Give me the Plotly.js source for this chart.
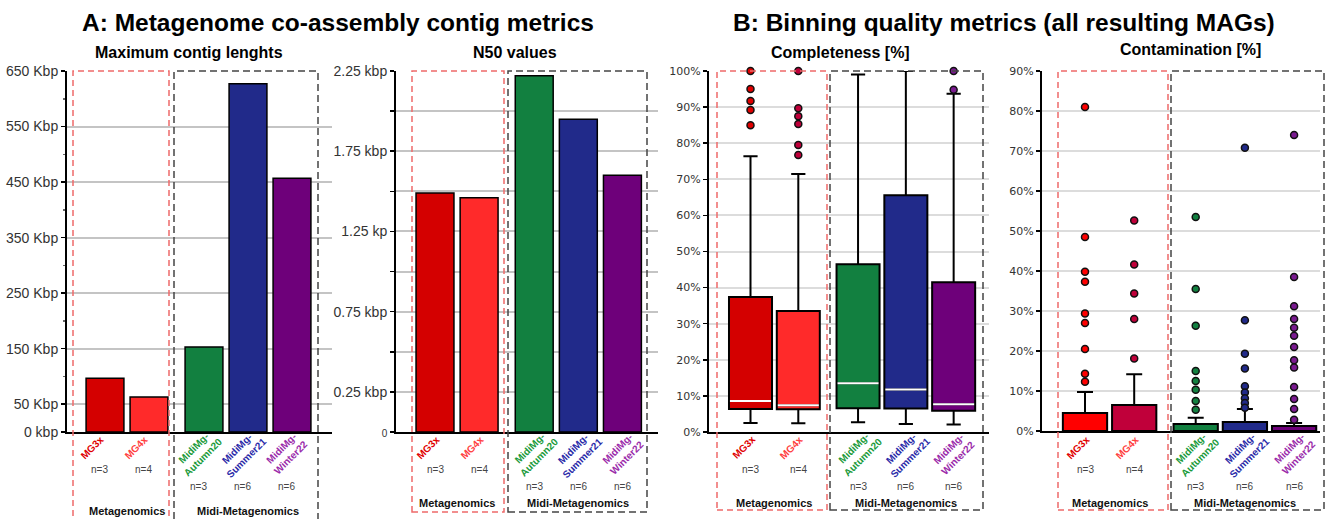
<!DOCTYPE html>
<html><head><meta charset="utf-8">
<script src="https://cdn.plot.ly/plotly-3.0.1.min.js"></script>
<style>html,body{margin:0;padding:0;background:#fff}</style>
</head><body><div id="chart" style="width:1325px;height:519px"></div>
<script>
// ---------- data ----------
const categories = ['MG3x', 'MG4x', 'MidiMg-Autumn20', 'MidiMg-Summer21', 'MidiMg-Winter22'];
const categoryLabels = ['MG3x', 'MG4x', 'MidiMg-<br>Autumn20', 'MidiMg-<br>Summer21', 'MidiMg-<br>Winter22'];
const sampleCounts = [3, 4, 3, 6, 6];
const groupOf = [0, 0, 1, 1, 1];
const groupNames = ['Metagenomics', 'Midi-Metagenomics'];

const maxContigKbp = [97, 63, 153, 627, 457];
const n50Kbp = [1.49, 1.46, 2.22, 1.95, 1.60];

const compQ1 = [6.4, 6.3, 6.6, 6.5, 5.9];
const compMedian = [8.6, 7.4, 13.5, 11.8, 7.7];
const compQ3 = [37.4, 33.5, 46.5, 65.6, 41.5];
const compLowerFence = [2.5, 2.4, 2.7, 2.2, 2.1];
const compUpperFence = [76.4, 71.5, 99.0, 100, 93.7];
const compOutliers = [
  [100, 95, 91.7, 89.2, 85],
  [100, 89.7, 87.5, 85.3, 79.5, 76.7],
  [],
  [],
  [100, 94.8]
];

const contMean = [4.5, 6.5, 1.75, 2.25, 1.25];
const contSdUp = [5.25, 7.7, 1.55, 3.25, 0.75];
const contOutliers = [
  [81, 48.5, 39.8, 37.3, 29.4, 27, 20.5, 14.3, 12.3],
  [52.6, 41.6, 34.4, 28.0, 18.1],
  [53.5, 35.5, 26.3, 15, 12.5, 10.3, 7.5, 5.3],
  [70.8, 27.7, 19.3, 15.6, 11.2, 9.6, 8.2, 7.0, 5.8],
  [74, 38.5, 31.2, 28, 25.8, 23.8, 21, 17.7, 15.9, 11, 8, 5.5, 2.8]
];

const maxTicks = [0, 50, 150, 250, 350, 450, 550, 650];
const maxTickText = ['0 kbp', '50 Kbp', '150 Kbp', '250 Kbp', '350 Kbp', '450 Kbp', '550 Kbp', '650 Kbp'];
const n50Ticks = [0, 0.25, 0.5, 0.75, 1.0, 1.25, 1.5, 1.75, 2.0, 2.25];
const n50TickText = ['<span style="font-size:10px">0</span>', '0.25 kbp', '', '0.75 kbp', '', '1.25 kp', '', '1.75 kbp', '', '2.25 kbp'];

// ---------- styles ----------
const barColors = ['#d40000', '#ff2a2a', '#128040', '#212a8a', '#6e007a'];
const contBarColors = ['#ff0000', '#c0003a', '#128040', '#212a8a', '#6e007a'];
const compPointColors = ['#e00000', '#c0003a', '#128040', '#212a8a', '#7a1a90'];
const contPointColors = ['#ff0000', '#c0003a', '#128040', '#212a8a', '#7a1a90'];
const labelColors = ['#e00000', '#ff4040', '#1a9a3a', '#2a2aa8', '#9a2aaa'];

const W = 1325, H = 519;
const px = v => v / W;
const py = v => 1 - v / H;
const FONT = 'Liberation Sans, Arial, sans-serif';
const pos = groupOf.map((g, i) => i + g * 0.25);

// panels: pixel geometry
const panels = [
  {L: 67, R: 332, T: 71, B: 432, c0: 105, u: 44, ymax: 650, tickFont: {family: FONT, size: 14, color: '#333'}, groupY: 511, shift: -6,
   red: [73, 169], blk: [174, 318], rb: 530},
  {L: 396, R: 658, T: 71, B: 432, c0: 435, u: 44.1, ymax: 2.25, tickFont: {family: FONT, size: 14, color: '#333'}, groupY: 503, shift: 0,
   red: [412, 504], blk: [508, 647], rb: 512},
  {L: 709, R: 989, T: 71, B: 432, c0: 750.5, u: 47.8, ymax: 100, tickFont: {family: 'DejaVu Sans, sans-serif', size: 11, color: '#333'}, groupY: 503, shift: 0,
   red: [717, 827], blk: [830, 983], rb: 510},
  {L: 1042, R: 1320, T: 71, B: 431, c0: 1085, u: 49.2, ymax: 90, tickFont: {family: 'DejaVu Sans, sans-serif', size: 11, color: '#333'}, groupY: 503, shift: 0,
   red: [1058, 1168], blk: [1171, 1324], rb: 510}
];

const layout = {
  width: W, height: H, autosize: false,
  margin: {l: 0, r: 0, t: 0, b: 0},
  paper_bgcolor: '#fff', plot_bgcolor: 'rgba(0,0,0,0)',
  showlegend: false, hovermode: false,
  font: {family: FONT},
  shapes: [], annotations: []
};

panels.forEach((p, k) => {
  const sfx = k === 0 ? '' : String(k + 1);
  layout['xaxis' + sfx] = {
    domain: [px(p.L), px(p.R)],
    range: [(p.L - p.c0) / p.u, (p.R - p.c0) / p.u],
    anchor: 'y' + sfx, showgrid: false, zeroline: false, showticklabels: false, ticks: '',
    showline: true, linewidth: 2, linecolor: '#000', fixedrange: true
  };
  const ya = {
    domain: [py(p.B), py(p.T)],
    range: [0, p.ymax],
    anchor: 'x' + sfx, zeroline: false,
    showline: true, linewidth: 2, linecolor: '#000',
    ticks: 'outside', ticklen: 4, tickwidth: 1.5, tickcolor: '#000',
    showgrid: true, gridcolor: '#cfcfcf', gridwidth: 2,
    tickfont: p.tickFont, automargin: false, fixedrange: true
  };
  if (k === 0) {
    ya.tickmode = 'array'; ya.tickvals = maxTicks; ya.ticktext = maxTickText;
    ya.minor = {tickmode: 'array', tickvals: [100, 200, 300, 400, 500, 600], ticks: 'outside', ticklen: 2, tickcolor: '#666', showgrid: false};
    ya.gridcolor = '#c4c4c4';
  } else if (k === 1) {
    ya.tickmode = 'array'; ya.tickvals = n50Ticks; ya.ticktext = n50TickText;
    ya.gridcolor = '#c4c4c4';
  } else {
    ya.tickmode = 'linear'; ya.tick0 = 0; ya.dtick = 10; ya.ticksuffix = '%';
    ya.gridcolor = '#dcdcdc';
  }
  layout['yaxis' + sfx] = ya;

  // dashed group boxes
  layout.shapes.push({type: 'rect', xref: 'paper', yref: 'paper', x0: px(p.red[0]), x1: px(p.red[1]), y0: py(p.rb), y1: py(p.T),
    line: {color: '#ee6a6a', width: 1.5, dash: '6px,4px'}, layer: 'above'});
  layout.shapes.push({type: 'rect', xref: 'paper', yref: 'paper', x0: px(p.blk[0]), x1: px(p.blk[1]), y0: py(p.rb), y1: py(p.T),
    line: {color: '#444', width: 1.5, dash: '7px,4px'}, layer: 'above'});

  // category labels, n labels
  categories.forEach((c, i) => {
    const twoLine = categoryLabels[i].indexOf('<br>') >= 0;
    layout.annotations.push({
      xref: 'x' + sfx, yref: 'paper', x: pos[i], y: py(twoLine ? 453 : 447), xshift: (twoLine ? 0 : -7) + p.shift,
      text: '<b>' + categoryLabels[i] + '</b>', textangle: -45, showarrow: false,
      font: {family: FONT, size: 10, color: labelColors[i]}, xanchor: 'center', yanchor: 'middle'
    });
    layout.annotations.push({
      xref: 'x' + sfx, yref: 'paper', x: pos[i], y: py(groupOf[i] ? 486 : 469), xshift: p.shift,
      text: 'n=' + sampleCounts[i], showarrow: false,
      font: {family: FONT, size: 10, color: '#444'}, xanchor: 'center', yanchor: 'middle'
    });
  });
  groupNames.forEach((g, gi) => {
    const idx = groupOf.map((v, i) => v === gi ? pos[i] : null).filter(v => v !== null);
    const cx = (Math.min(...idx) + Math.max(...idx)) / 2;
    layout.annotations.push({
      xref: 'x' + sfx, yref: 'paper', x: cx, y: py(p.groupY), text: '<b>' + g + '</b>', showarrow: false,
      font: {family: FONT, size: 11, color: '#111'}, xanchor: 'center', yanchor: 'middle'
    });
  });
});

// titles
const titles = [
  {t: 'A: Metagenome co-assembly contig metrics', x: 338, y: 23, s: 24.5},
  {t: 'B: Binning quality metrics (all resulting MAGs)', x: 1004, y: 23, s: 24.5},
  {t: 'Maximum contig lenghts', x: 189, y: 52, s: 16},
  {t: 'N50 values', x: 515, y: 52, s: 16},
  {t: 'Completeness [%]', x: 841, y: 52, s: 16},
  {t: 'Contamination [%]', x: 1190, y: 50, s: 16}
];
titles.forEach(o => layout.annotations.push({
  xref: 'paper', yref: 'paper', x: px(o.x), y: py(o.y), text: '<b>' + o.t + '</b>', showarrow: false,
  font: {family: FONT, size: o.s, color: '#000'}, xanchor: 'center', yanchor: 'middle'
}));

const traces = [];
// Panel A1: max contig bars
traces.push({type: 'bar', x: pos, y: maxContigKbp, width: 0.86, xaxis: 'x', yaxis: 'y',
  marker: {color: barColors, line: {color: '#000', width: 1.5}}});
// Panel A2: N50 bars
traces.push({type: 'bar', x: pos, y: n50Kbp, width: 0.86, xaxis: 'x2', yaxis: 'y2',
  marker: {color: barColors, line: {color: '#000', width: 1.5}}});
// Panel B1: completeness boxes
categories.forEach((c, i) => {
  traces.push({type: 'box', x: [pos[i]], q1: [compQ1[i]], median: [compMedian[i]], q3: [compQ3[i]],
    lowerfence: [compLowerFence[i]], upperfence: [compUpperFence[i]], width: 0.9, whiskerwidth: 0.33,
    boxpoints: false, fillcolor: barColors[i], line: {color: '#000', width: 2}, xaxis: 'x3', yaxis: 'y3'});
});
const medX = [], medY = [];
categories.forEach((c, i) => { medX.push(pos[i] - 0.43, pos[i] + 0.43, null); medY.push(compMedian[i], compMedian[i], null); });
traces.push({type: 'scatter', mode: 'lines', x: medX, y: medY, line: {color: '#fff', width: 2}, xaxis: 'x3', yaxis: 'y3'});
categories.forEach((c, i) => {
  if (!compOutliers[i].length) return;
  traces.push({type: 'scatter', mode: 'markers', x: compOutliers[i].map(() => pos[i]), y: compOutliers[i],
    marker: {color: compPointColors[i], size: 7, line: {color: '#111', width: 1.5}}, xaxis: 'x3', yaxis: 'y3', cliponaxis: false});
});
// Panel B2: contamination bars with upper error
traces.push({type: 'bar', x: pos, y: contMean, width: 0.9, xaxis: 'x4', yaxis: 'y4',
  marker: {color: contBarColors, line: {color: '#000', width: 2}},
  error_y: {type: 'data', symmetric: false, array: contSdUp, arrayminus: contSdUp.map(() => 0), color: '#000', thickness: 2, width: 8}});
categories.forEach((c, i) => {
  traces.push({type: 'scatter', mode: 'markers', x: contOutliers[i].map(() => pos[i]), y: contOutliers[i],
    marker: {color: contPointColors[i], size: 7, line: {color: '#111', width: 1.5}}, xaxis: 'x4', yaxis: 'y4'});
});

Plotly.newPlot('chart', traces, layout, {staticPlot: true, displayModeBar: false});
</script></body></html>
